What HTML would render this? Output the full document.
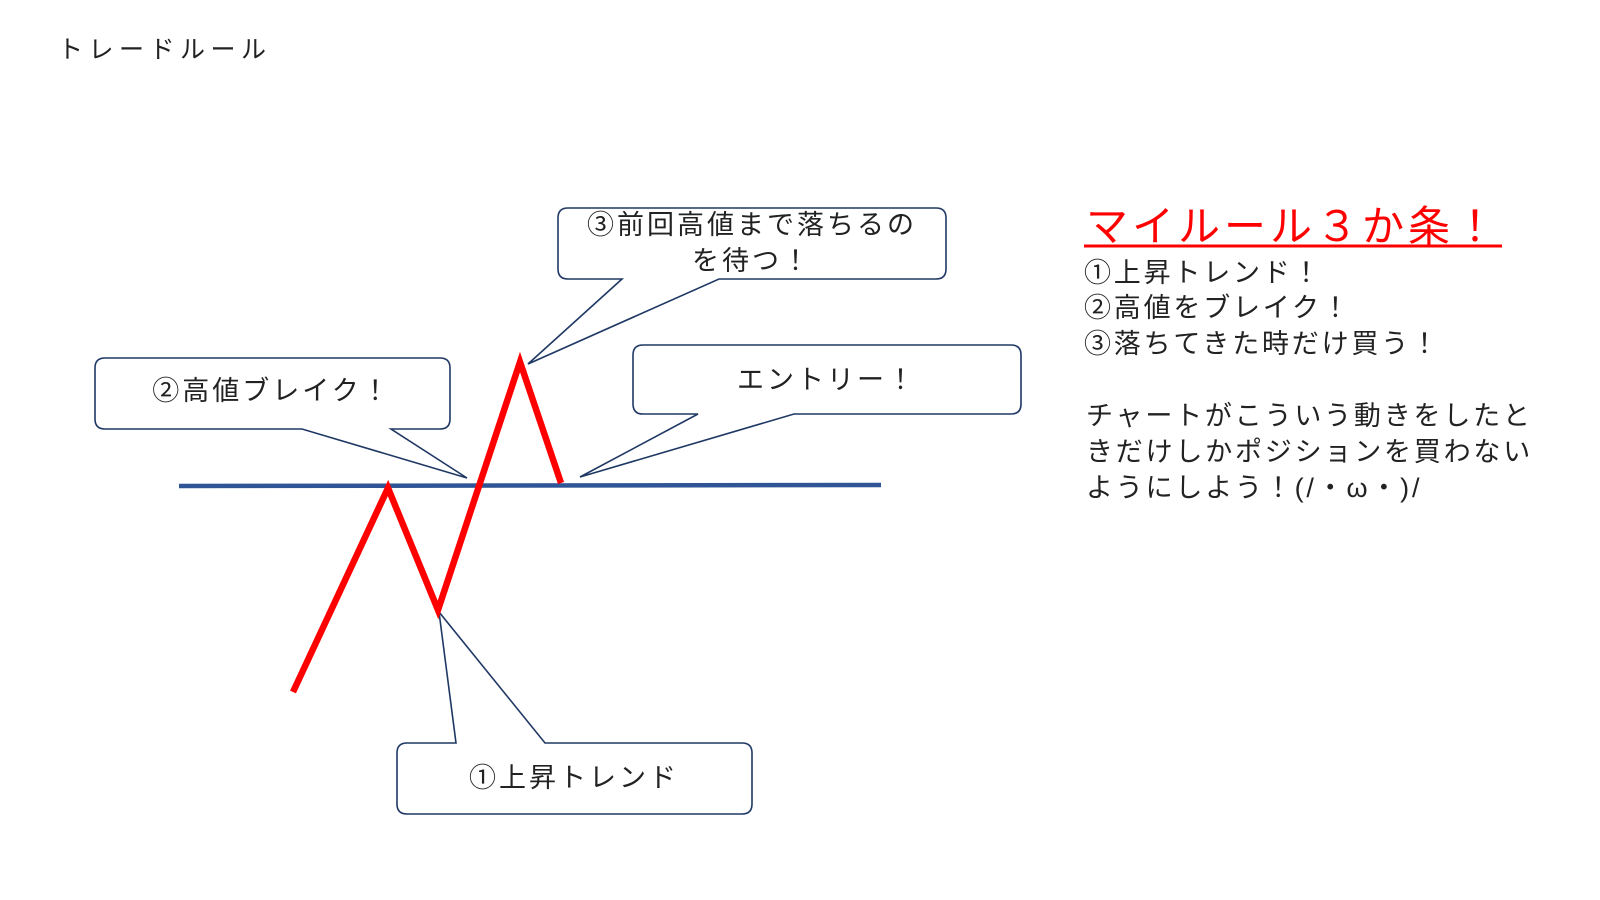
<!DOCTYPE html>
<html><head><meta charset="utf-8"><style>
html,body{margin:0;padding:0;background:#fff;}
svg{display:block;}
text{font-family:"Liberation Sans","Noto Sans CJK JP",sans-serif;fill:#222;}
</style></head><body>
<svg width="1600" height="900" viewBox="0 0 1600 900">
<text x="58" y="58" font-size="25" letter-spacing="5.5">トレードルール</text>
<g fill="#fff" stroke="#1f3864" stroke-width="1.6" stroke-linejoin="miter">
<path d="M105,358 H440 Q450,358 450,368 V419 Q450,429 440,429 H391 L467,478 L302,429 H105 Q95,429 95,419 V368 Q95,358 105,358 Z"/>
<path d="M568,208 H936 Q946,208 946,218 V269 Q946,279 936,279 H719 L528,364 L622,279 H568 Q558,279 558,269 V218 Q558,208 568,208 Z"/>
<path d="M643,345 H1011 Q1021,345 1021,355 V404 Q1021,414 1011,414 H794 L580,477 L698,414 H643 Q633,414 633,404 V355 Q633,345 643,345 Z"/>
<path d="M407,743 H456 L439,612 L545,743 H742 Q752,743 752,753 V804 Q752,814 742,814 H407 Q397,814 397,804 V753 Q397,743 407,743 Z"/>
</g>
<line x1="179" y1="486" x2="881" y2="485" stroke="#2f5597" stroke-width="4.5"/>
<polyline points="293,692 388,488 438,610 520,362 561,483" fill="none" stroke="#ff0000" stroke-width="6.5" stroke-linejoin="miter"/>
<g font-size="27" text-anchor="middle" letter-spacing="3">
<text x="272" y="400">②高値ブレイク！</text>
<text x="752" y="234">③前回高値まで落ちるの</text>
<text x="752" y="270">を待つ！</text>
<text x="827" y="389">エントリー！</text>
<text x="574" y="787">①上昇トレンド</text>
</g>
<text x="1086" y="241" font-size="42" letter-spacing="4" style="fill:#ff0000">マイルール３か条！</text>
<line x1="1084" y1="246" x2="1502" y2="246" stroke="#ff0000" stroke-width="3"/>
<g font-size="27" letter-spacing="2.8">
<text x="1084" y="282">①上昇トレンド！</text>
<text x="1084" y="317">②高値をブレイク！</text>
<text x="1084" y="353">③落ちてきた時だけ買う！</text>
<text x="1086" y="425">チャートがこういう動きをしたと</text>
<text x="1086" y="461">きだけしかポジションを買わない</text>
<text x="1086" y="497">ようにしよう！(/・ω・)/</text>
</g>
</svg>
</body></html>
